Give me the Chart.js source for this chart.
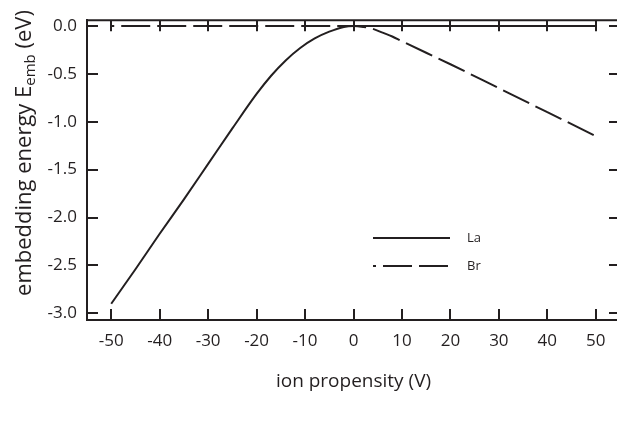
<!DOCTYPE html>
<html>
<head>
<meta charset="utf-8">
<script src="https://cdn.jsdelivr.net/npm/chart.js@4/dist/chart.umd.min.js"></script>
<style>
html, body { margin: 0; padding: 0; background: #fff; overflow: hidden; }
#wrap { width: 640px; height: 425px; }
</style>
</head>
<body>
<div id="wrap"><canvas id="embedding" width="640" height="425"></canvas></div>
<script>
let ink = '#231f20';
let fontFamily = '"Open Sans", "Noto Sans", sans-serif';

// ion propensity (V) vs embedding energy (eV)
let laVolts  = [-50, -45, -40, -35, -30, -25, -20, -17, -14, -11, -8, -5, -2, 0, 10, 20, 30, 40, 50];
let laEnergy = [-2.90, -2.54, -2.17, -1.81, -1.44, -1.07, -0.71, -0.52, -0.36, -0.23, -0.13, -0.06, -0.01, 0, 0, 0, 0, 0, 0];
let brVolts  = [-50, -40, -30, -20, -10, 0, 2, 4, 6, 8, 10, 20, 30, 40, 50];
let brEnergy = [0, 0, 0, 0, 0, 0, -0.01, -0.03, -0.07, -0.11, -0.16, -0.40, -0.65, -0.90, -1.15];

let xTicks = [-50, -40, -30, -20, -10, 0, 10, 20, 30, 40, 50];
let yTicks = [0.0, -0.5, -1.0, -1.5, -2.0, -2.5, -3.0];

function points(xs, ys) {
    return xs.map(function(x, i) { return {x: x, y: ys[i]}; });
}

// inward ticks on all four sides, top line and the right edge
let frameTicks = {
    id: 'frameTicks',
    afterDraw: function(chart) {
        let ctx = chart.ctx;
        let a = chart.chartArea;
        let xs = chart.scales.x;
        let ys = chart.scales.y;
        ctx.save();
        ctx.strokeStyle = ink;
        ctx.lineWidth = 2;
        ctx.beginPath();
        ctx.moveTo(a.left, a.top);
        ctx.lineTo(a.right, a.top);
        ctx.lineTo(a.right, a.bottom);
        xTicks.forEach(function(v) {
            let px = Math.round(xs.getPixelForValue(v));
            ctx.moveTo(px, a.bottom);
            ctx.lineTo(px, a.bottom - 11);
            ctx.moveTo(px, a.top);
            ctx.lineTo(px, a.top + 11);
        });
        yTicks.forEach(function(v) {
            let py = Math.round(ys.getPixelForValue(v));
            ctx.moveTo(a.left, py);
            ctx.lineTo(a.left + 11, py);
            ctx.moveTo(a.right, py);
            ctx.lineTo(a.right - 11, py);
        });
        ctx.stroke();
        ctx.restore();
    }
};

// axis titles, the y one carries a subscript
let axisTitles = {
    id: 'axisTitles',
    afterDraw: function(chart) {
        let ctx = chart.ctx;
        ctx.save();
        ctx.fillStyle = ink;
        ctx.font = '19px ' + fontFamily;
        ctx.textAlign = 'center';
        ctx.textBaseline = 'middle';
        ctx.fillText('ion propensity (V)', chart.scales.x.getPixelForValue(0), 382);

        let main = 'embedding energy E';
        let sub = 'emb';
        let tail = ' (eV)';
        ctx.font = '22px ' + fontFamily;
        let wMain = ctx.measureText(main).width;
        let wTail = ctx.measureText(tail).width;
        ctx.font = '15px ' + fontFamily;
        let wSub = ctx.measureText(sub).width;
        let total = wMain + wSub + wTail;
        ctx.translate(31, 153);
        ctx.rotate(-Math.PI / 2);
        ctx.textAlign = 'left';
        ctx.textBaseline = 'alphabetic';
        let x0 = -total / 2;
        ctx.font = '22px ' + fontFamily;
        ctx.fillText(main, x0, 0);
        ctx.font = '15px ' + fontFamily;
        ctx.fillText(sub, x0 + wMain, 4);
        ctx.font = '22px ' + fontFamily;
        ctx.fillText(tail, x0 + wMain + wSub, 0);
        ctx.restore();
    }
};

// legend inside the plot
let lineLegend = {
    id: 'lineLegend',
    afterDraw: function(chart) {
        let ctx = chart.ctx;
        ctx.save();
        ctx.font = '13px ' + fontFamily;
        ctx.fillStyle = ink;
        ctx.textBaseline = 'middle';
        chart.data.datasets.forEach(function(ds, i) {
            let y = 238 + i * 28;
            ctx.strokeStyle = ds.borderColor;
            ctx.lineWidth = ds.borderWidth;
            ctx.setLineDash(ds.borderDash || []);
            ctx.lineDashOffset = ds.borderDashOffset || 0;
            ctx.beginPath();
            ctx.moveTo(373, y);
            ctx.lineTo(450, y);
            ctx.stroke();
            ctx.fillText(ds.label, 467, y);
        });
        ctx.restore();
    }
};

let embeddingChart = new Chart(document.getElementById('embedding'), {
    type: 'line',
    data: {
        datasets: [
            {
                label: 'La',
                data: points(laVolts, laEnergy),
                borderColor: ink,
                borderWidth: 2,
                pointRadius: 0,
                cubicInterpolationMode: 'monotone',
                fill: false
            },
            {
                label: 'Br',
                data: points(brVolts, brEnergy),
                borderColor: ink,
                borderWidth: 2,
                borderDash: [29, 7],
                borderDashOffset: 26,
                pointRadius: 0,
                cubicInterpolationMode: 'monotone',
                fill: false
            }
        ]
    },
    options: {
        responsive: false,
        animation: false,
        layout: { padding: { top: 10, right: 20, left: 0, bottom: 0 } },
        plugins: {
            legend: { display: false },
            tooltip: { enabled: false }
        },
        scales: {
            x: {
                type: 'linear',
                min: -55,
                max: 55,
                afterBuildTicks: function(scale) {
                    scale.ticks = xTicks.map(function(v) { return {value: v}; });
                },
                afterFit: function(scale) { scale.height = 105; },
                grid: { display: false, drawTicks: false },
                border: { display: true, color: ink, width: 2 },
                ticks: {
                    color: ink,
                    padding: 11,
                    maxRotation: 0,
                    font: { family: fontFamily, size: 17 },
                    callback: function(v) { return String(v); }
                }
            },
            y: {
                type: 'linear',
                min: -3.07,
                max: 0.06,
                afterBuildTicks: function(scale) {
                    scale.ticks = yTicks.map(function(v) { return {value: v}; });
                },
                afterFit: function(scale) { scale.width = 87; },
                grid: { display: false, drawTicks: false },
                border: { display: true, color: ink, width: 2 },
                ticks: {
                    color: ink,
                    padding: 10,
                    font: { family: fontFamily, size: 17 },
                    callback: function(v) { return v.toFixed(1); }
                }
            }
        }
    },
    plugins: [frameTicks, axisTitles, lineLegend]
});
</script>
</body>
</html>
